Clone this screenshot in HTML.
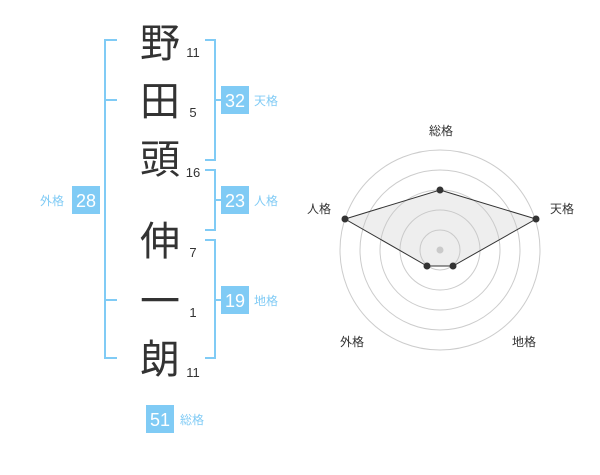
<!DOCTYPE html>
<html><head><meta charset="utf-8"><style>
body{margin:0;width:600px;height:470px;background:#fff;overflow:hidden;font-family:"Liberation Sans","Noto Sans CJK JP",sans-serif}
</style></head><body>
<svg width="600" height="470" xmlns="http://www.w3.org/2000/svg" font-family="Liberation Sans, Noto Sans CJK JP, sans-serif">
<g stroke="#80cbf5" stroke-width="2" fill="none">
<path d="M117 40H105V358H117M105 100H117M105 300H117"/>
<path d="M205 40H215V160H205M215 100H221"/>
<path d="M205 170H215V230H205M215 200H221"/>
<path d="M205 240H215V358H205M215 300H221"/>
</g>
<g font-size="40" fill="#333" text-anchor="middle" font-family="Noto Sans CJK JP, sans-serif">
<text x="160" y="57">野</text><text x="160" y="115">田</text><text x="160" y="173">頭</text>
<text x="160" y="255">伸</text><text x="160" y="315">一</text><text x="160" y="373">朗</text>
</g>
<g font-size="13" fill="#333" text-anchor="middle">
<text x="193" y="57">11</text><text x="193" y="117">5</text><text x="193" y="177">16</text>
<text x="193" y="257">7</text><text x="193" y="317">1</text><text x="193" y="377">11</text>
</g>
<g fill="#80cbf5">
<rect x="221" y="86" width="28" height="28"/><rect x="221" y="186" width="28" height="28"/>
<rect x="221" y="286" width="28" height="28"/><rect x="72" y="186" width="28" height="28"/>
<rect x="146" y="405" width="28" height="28"/>
</g>
<g font-size="18" fill="#fff" text-anchor="middle">
<text x="235" y="107">32</text><text x="235" y="207">23</text><text x="235" y="307">19</text>
<text x="86" y="207">28</text><text x="160" y="426">51</text>
</g>
<g font-size="12" fill="#80cbf5">
<text x="254" y="105">天格</text><text x="254" y="205">人格</text><text x="254" y="305">地格</text>
<text x="40" y="205">外格</text><text x="180" y="424">総格</text>
</g>
<g stroke="#ccc" fill="none" stroke-width="1">
<circle cx="440" cy="250" r="20"/><circle cx="440" cy="250" r="40"/><circle cx="440" cy="250" r="60"/>
<circle cx="440" cy="250" r="80"/><circle cx="440" cy="250" r="100"/>
</g>
<circle cx="440" cy="250" r="3.5" fill="#ccc"/>
<polygon points="440,190 536,219 453,266 427,266 345,219" fill="rgba(200,200,200,0.3)" stroke="#333" stroke-width="1"/>
<g fill="#333">
<circle cx="440" cy="190" r="3.5"/><circle cx="536" cy="219" r="3.5"/><circle cx="453" cy="266" r="3.5"/>
<circle cx="427" cy="266" r="3.5"/><circle cx="345" cy="219" r="3.5"/>
</g>
<g font-size="12" fill="#333" text-anchor="middle">
<text x="441" y="135">総格</text><text x="562" y="213">天格</text><text x="319" y="213">人格</text>
<text x="524" y="346">地格</text><text x="352" y="346">外格</text>
</g>
</svg>
</body></html>
